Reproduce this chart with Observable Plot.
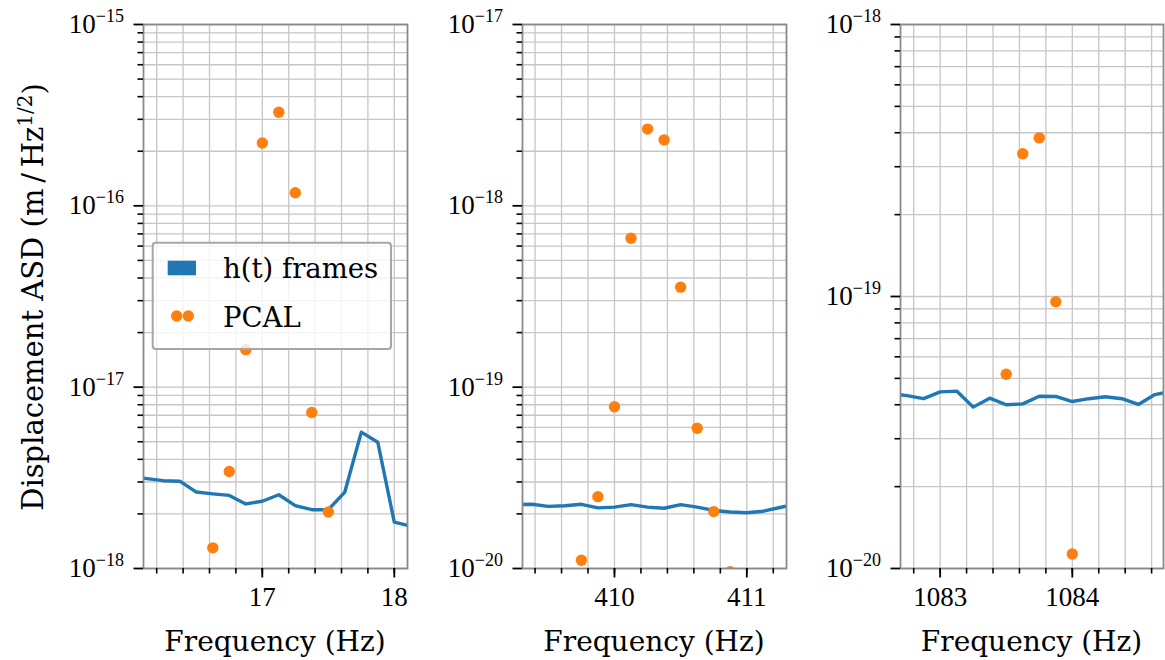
<!DOCTYPE html>
<html>
<head>
<meta charset="utf-8">
<script src="https://cdn.jsdelivr.net/npm/d3@7"></script>
<script src="https://cdn.jsdelivr.net/npm/@observablehq/plot@0.6"></script>
<style>
  html, body { margin: 0; padding: 0; background: #fff; }
  #chart { position: relative; width: 1165px; height: 660px; overflow: hidden; }
  #chart > svg { position: absolute; top: 0; }
</style>
</head>
<body>
<div id="chart"></div>
<script>
// ---------- Data ----------
// Panel 1 (~17 Hz line)
const freq1 = [16.0, 16.125, 16.25, 16.375, 16.5, 16.625, 16.75, 16.875, 17.0, 17.125, 17.25, 17.375, 17.5, 17.625, 17.75, 17.875, 18.0, 18.125, 18.25];
const asd1  = [3.2e-18, 3.13e-18, 3.05e-18, 3.03e-18, 2.64e-18, 2.58e-18, 2.53e-18, 2.27e-18, 2.35e-18, 2.55e-18, 2.22e-18, 2.11e-18, 2.11e-18, 2.64e-18, 5.65e-18, 4.97e-18, 1.80e-18, 1.71e-18, 1.70e-18];
const pcalFreq1 = [16.625, 16.75, 16.875, 17.0, 17.125, 17.25, 17.375, 17.5];
const pcal1     = [1.30e-18, 3.43e-18, 1.61e-17, 2.22e-16, 3.28e-16, 1.18e-16, 7.25e-18, 2.05e-18];

// Panel 2 (~410 Hz line)
const freq2 = [409.25, 409.375, 409.5, 409.625, 409.75, 409.875, 410.0, 410.125, 410.25, 410.375, 410.5, 410.625, 410.75, 410.875, 411.0, 411.125, 411.25, 411.375];
const asd2  = [2.25e-20, 2.26e-20, 2.20e-20, 2.22e-20, 2.26e-20, 2.16e-20, 2.18e-20, 2.25e-20, 2.18e-20, 2.15e-20, 2.25e-20, 2.18e-20, 2.09e-20, 2.05e-20, 2.03e-20, 2.07e-20, 2.17e-20, 2.26e-20];
const pcalFreq2 = [409.75, 409.875, 410.0, 410.125, 410.25, 410.375, 410.5, 410.625, 410.75, 410.875];
const pcal2     = [1.11e-20, 2.49e-20, 7.80e-20, 6.63e-19, 2.65e-18, 2.31e-18, 3.56e-19, 5.94e-20, 2.06e-20, 9.6e-21];

// Panel 3 (~1083 Hz line)
const freq3 = [1082.625, 1082.75, 1082.875, 1083.0, 1083.125, 1083.25, 1083.375, 1083.5, 1083.625, 1083.75, 1083.875, 1084.0, 1084.125, 1084.25, 1084.375, 1084.5, 1084.625, 1084.75];
const asd3  = [4.40e-20, 4.32e-20, 4.21e-20, 4.46e-20, 4.49e-20, 3.92e-20, 4.23e-20, 4.00e-20, 4.03e-20, 4.30e-20, 4.29e-20, 4.11e-20, 4.21e-20, 4.28e-20, 4.21e-20, 4.01e-20, 4.36e-20, 4.48e-20];
const pcalFreq3 = [1083.5, 1083.625, 1083.75, 1083.875, 1084.0];
const pcal3     = [5.18e-20, 3.35e-19, 3.83e-19, 9.56e-20, 1.13e-20];

// Axis ticks
const xMajor1 = [17, 18], xMajor2 = [410, 411], xMajor3 = [1083, 1084];
const yMajor1 = [1e-18, 1e-17, 1e-16, 1e-15];
const yMajor2 = [1e-20, 1e-19, 1e-18, 1e-17];
const yMajor3 = [1e-20, 1e-19, 1e-18];

const seriesLabels = ["h(t) frames", "PCAL"];
const xLabel = "Frequency (Hz)";

// ---------- Helpers ----------
const BLUE = "#1f77b4", ORANGE = "#ff7f0e";
const TICK_FONT = "Liberation Serif", LABEL_FONT = "DejaVu Serif";
const ns = "http://www.w3.org/2000/svg";
const toRows = (fs, vs) => fs.map((f, i) => ({f, v: vs[i]}));
function minorX(lo, hi) {
  const out = [];
  for (let k = Math.ceil(lo / 0.2 - 1e-9); k * 0.2 <= hi + 1e-9; k++) out.push(+(k * 0.2).toFixed(4));
  return out;
}
function logGrid(e0, e1) {
  const out = [];
  for (let e = e0; e < e1; e++) for (let m = 1; m <= 9; m++) out.push(+(m + "e" + e));
  out.push(+("1e" + e1));
  return out;
}
function logMinor(e0, e1) {
  return logGrid(e0, e1).filter(d => Math.abs(Math.log10(d) - Math.round(Math.log10(d))) > 1e-6);
}

const panels = [
  {left: 0, width: 420, mL: 143, mR: 13, xDomain: [16.1, 18.1], yDomain: [1e-18, 1e-15], e: [-18, -15],
   line: toRows(freq1, asd1), dots: toRows(pcalFreq1, pcal1), xMajor: xMajor1, yMajor: yMajor1},
  {left: 420, width: 380, mL: 102, mR: 14, xDomain: [409.305, 411.3], yDomain: [1e-20, 1e-17], e: [-20, -17],
   line: toRows(freq2, asd2), dots: toRows(pcalFreq2, pcal2), xMajor: xMajor2, yMajor: yMajor2},
  {left: 800, width: 365, mL: 100, mR: 2, xDomain: [1082.7, 1084.69], yDomain: [1e-20, 1e-18], e: [-20, -18],
   line: toRows(freq3, asd3), dots: toRows(pcalFreq3, pcal3), xMajor: xMajor3, yMajor: yMajor3}
];

const root = document.getElementById("chart");
const frames = [];

for (const p of panels) {
  const xm = minorX(p.xDomain[0], p.xDomain[1]);
  const yg = logGrid(p.e[0], p.e[1]);
  const ym = logMinor(p.e[0], p.e[1]);
  const svg = Plot.plot({
    width: p.width, height: 660,
    marginLeft: p.mL, marginRight: p.mR, marginTop: 24, marginBottom: 92,
    x: {domain: p.xDomain},
    y: {type: "log", domain: p.yDomain},
    style: {background: "transparent", overflow: "visible", color: "black"},
    marks: [
      Plot.gridX(xm, {stroke: "#c6c6c6", strokeOpacity: 1, strokeWidth: 1.3}),
      Plot.gridY(yg, {stroke: "#c6c6c6", strokeOpacity: 1, strokeWidth: 1.3}),
      Plot.line(p.line, {x: "f", y: "v", stroke: BLUE, strokeWidth: 3.4, clip: true}),
      Plot.dot(p.dots, {x: "f", y: "v", r: 5.7, fill: ORANGE, stroke: "none", clip: true}),
      Plot.frame({stroke: "#8a8a8a", strokeWidth: 1.8}),
      Plot.axisX(xm, {tickSize: 5.5, strokeWidth: 1.6, tickFormat: () => "", label: null}),
      Plot.axisX(p.xMajor, {tickSize: 9.5, strokeWidth: 1.8, tickPadding: 9, tickFormat: d => String(d), label: null}),
      Plot.axisY(ym, {tickSize: 5.5, strokeWidth: 1.6, tickFormat: () => "", label: null}),
      Plot.axisY(p.yMajor, {tickSize: 9.5, strokeWidth: 1.8, tickPadding: 10, tickFormat: d => "10^" + Math.round(Math.log10(d)), label: null})
    ]
  });
  svg.style.left = p.left + "px";
  svg.querySelectorAll("text").forEach(t => {
    t.setAttribute("font-family", TICK_FONT);
    t.setAttribute("font-size", "27");
    t.setAttribute("style", `font-family: '${TICK_FONT}'; font-size: 27px;`);
    t.setAttribute("fill", "black");
    const s = t.textContent;
    if (!s.includes("^")) return;
    const [b, ex] = s.split("^");
    t.textContent = b;
    const ts = document.createElementNS(ns, "tspan");
    ts.setAttribute("dy", "-0.62em");
    ts.setAttribute("style", "font-size: 18px;");
    ts.textContent = ex.replace("-", "\u2212");
    t.appendChild(ts);
  });
  root.appendChild(svg);
  frames.push([p.left + p.mL, p.left + p.width - p.mR]);
}

// ---------- Overlay: axis titles and legend ----------
const ov = document.createElementNS(ns, "svg");
ov.setAttribute("width", 1165); ov.setAttribute("height", 660);
ov.style.left = "0px";
const LF = (sz) => `font-family="${LABEL_FONT}" font-size="${sz}" style="font-family: '${LABEL_FONT}'; font-size: ${sz}px;"`;
let html = "";
for (const [a, b] of frames) {
  html += `<text ${LF(28)} x="${(a + b) / 2}" y="651" text-anchor="middle" fill="black">${xLabel}</text>`;
}
html += `<text ${LF(29)} transform="translate(43,297) rotate(-90)" text-anchor="middle" fill="black">Displacement ASD (m\u2009/\u2009Hz<tspan dy="-0.55em" style="font-size:20px">1/2</tspan><tspan dy="0.4em">)</tspan></text>`;
// legend
html += `<rect x="152.7" y="242.7" width="238.3" height="106.3" rx="3" fill="white" fill-opacity="0.8" stroke="#a6a6a6" stroke-width="2"/>`;
html += `<rect x="167.7" y="260.7" width="28.3" height="14.6" fill="${BLUE}"/>`;
html += `<circle cx="176.7" cy="316" r="5.7" fill="${ORANGE}"/><circle cx="188.3" cy="316" r="5.7" fill="${ORANGE}"/>`;
html += `<text ${LF(27.5)} x="223" y="278.3" fill="black">${seriesLabels[0]}</text>`;
html += `<text ${LF(27.5)} x="223" y="326.7" fill="black">${seriesLabels[1]}</text>`;
ov.innerHTML = html;
root.appendChild(ov);
</script>
</body>
</html>
